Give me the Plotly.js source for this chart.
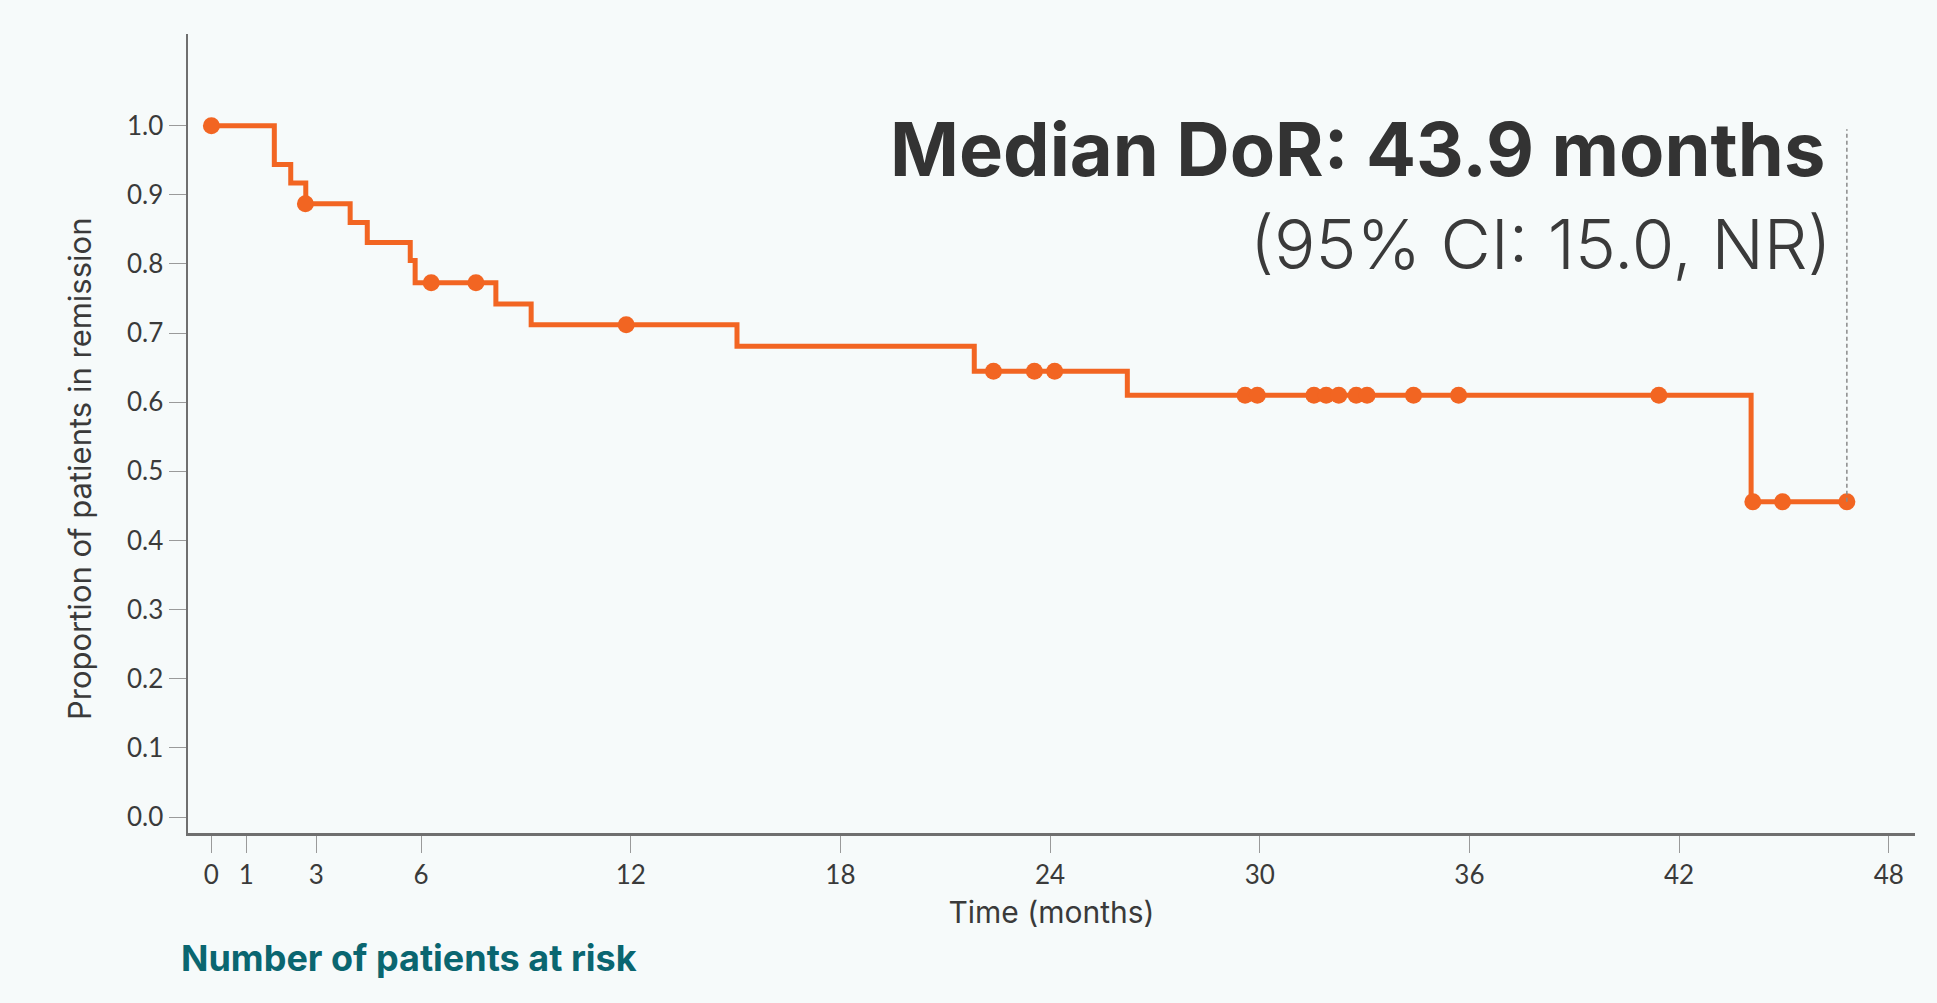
<!DOCTYPE html>
<html>
<head>
<meta charset="utf-8">
<script src="https://cdn.plot.ly/plotly-3.0.1.min.js"></script>
<style>
  html, body { margin: 0; padding: 0; background: #f6fafa; }
  #chart { width: 1937px; height: 1003px; }
</style>
</head>
<body>
<div id="chart"></div>
<script>
// Kaplan-Meier step curve: times of events (months) and proportion in remission after each step
const stepTimes = [0, 1.80, 2.27, 2.70, 3.97, 4.46, 5.69, 5.83, 8.14, 9.15, 15.04, 21.83, 26.21, 44.06, 46.80];
const stepSurv  = [1.000, 0.944, 0.917, 0.887, 0.860, 0.831, 0.805, 0.773, 0.742, 0.712, 0.681, 0.645, 0.610, 0.456, 0.456];

// Censored observations (markers)
const censorTimes = [0, 2.69, 6.29, 7.57, 11.87, 22.38, 23.55, 24.13, 29.58, 29.93, 31.55, 31.90, 32.26, 32.76, 33.07, 34.40, 35.69, 41.42, 44.11, 44.96, 46.80];
const censorSurv  = [1.000, 0.887, 0.773, 0.773, 0.712, 0.645, 0.645, 0.645, 0.610, 0.610, 0.610, 0.610, 0.610, 0.610, 0.610, 0.610, 0.610, 0.610, 0.456, 0.456, 0.456];

// Axis ticks
const xTickVals = [0, 1, 3, 6, 12, 18, 24, 30, 36, 42, 48];
const yTickVals = [0, 0.1, 0.2, 0.3, 0.4, 0.5, 0.6, 0.7, 0.8, 0.9, 1.0];

// Texts
const xTitle = "Time (months)";
const yTitle = "Proportion of patients in remission";
const medianText = "Median DoR: 43.9 months";
const ciText = "(95% CI: 15.0, NR)";
const riskText = "Number of patients at risk";
const lastTime = 46.80;
const lastSurv = 0.456;
const dashTop = 0.995;

const orange = "#f26522";
const textCol = "#3a3a3a";
const tickFam = "Lato, 'Open Sans', sans-serif";
const textFam = "Inter, Lato, sans-serif";

const traces = [
  {
    x: stepTimes, y: stepSurv, type: "scatter", mode: "lines",
    line: { shape: "hv", color: orange, width: 5 },
    hoverinfo: "skip", showlegend: false
  },
  {
    x: censorTimes, y: censorSurv, type: "scatter", mode: "markers",
    marker: { color: orange, size: 17, line: { width: 0 } },
    showlegend: false
  }
];

const layout = {
  width: 1937, height: 1003,
  paper_bgcolor: "#f6fafa", plot_bgcolor: "rgba(0,0,0,0)",
  margin: { l: 188, r: 22, t: 34, b: 170 },
  showlegend: false,
  font: { family: tickFam, color: textCol },
  xaxis: {
    range: [-0.67, 48.75],
    tickmode: "array", tickvals: xTickVals,
    ticks: "outside", ticklen: 17, tickwidth: 1, tickcolor: "#9a9a9a",
    tickfont: { family: tickFam, size: 26, color: textCol },
    showline: true, linecolor: "#6f6f6f", linewidth: 2.5,
    showgrid: false, zeroline: false,
    title: { text: xTitle, font: { family: textFam, size: 30, color: textCol }, standoff: 14 }
  },
  yaxis: {
    range: [-0.0231, 1.1327],
    tickmode: "array", tickvals: yTickVals, tickformat: ".1f",
    ticks: "outside", ticklen: 17, tickwidth: 1, tickcolor: "#9a9a9a",
    tickfont: { family: tickFam, size: 26, color: textCol },
    showline: true, linecolor: "#6f6f6f", linewidth: 2.5,
    showgrid: false, zeroline: false
  },
  shapes: [
    {
      type: "line", xref: "x", yref: "y",
      x0: lastTime, x1: lastTime, y0: lastSurv, y1: dashTop,
      line: { color: "#8a8a8a", width: 1.5, dash: "4px,3px" }
    }
  ],
  annotations: [
    {
      text: yTitle, xref: "paper", yref: "paper",
      x: -0.0625, y: 0.4556, xanchor: "center", yanchor: "middle", showarrow: false,
      textangle: -90,
      font: { family: textFam, size: 31, color: textCol }
    },
    {
      text: medianText, xref: "paper", yref: "paper",
      x: 0.949, y: 0.856, xanchor: "right", yanchor: "middle", showarrow: false,
      font: { family: textFam, size: 74, color: "#333333", weight: 700 }
    },
    {
      text: ciText, xref: "paper", yref: "paper",
      x: 0.953, y: 0.737, xanchor: "right", yanchor: "middle", showarrow: false,
      font: { family: textFam, size: 69, color: "#3a3a3a", weight: 300 }
    },
    {
      text: riskText, xref: "paper", yref: "paper",
      x: -0.005, y: -0.1568, xanchor: "left", yanchor: "middle", showarrow: false,
      font: { family: textFam, size: 36, color: "#0a6670", weight: 700 }
    }
  ]
};

Plotly.newPlot("chart", traces, layout, { displayModeBar: false, staticPlot: true });
</script>
</body>
</html>
